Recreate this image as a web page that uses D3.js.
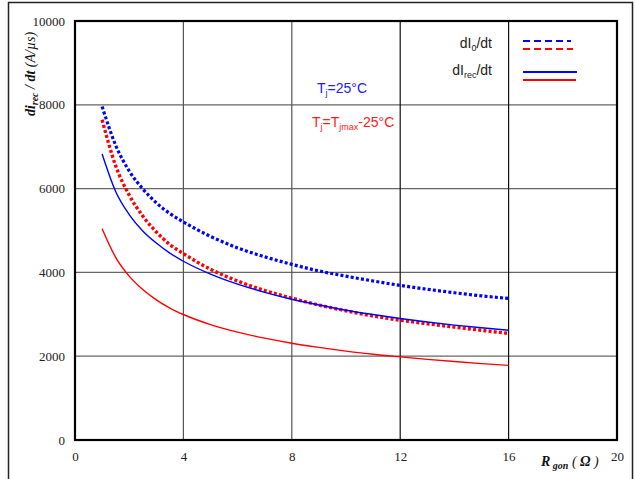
<!DOCTYPE html>
<html>
<head>
<meta charset="utf-8">
<script src="https://cdn.jsdelivr.net/npm/d3@7"></script>
<style>
  body { margin: 0; background: #fff; }
  svg { display: block; }
</style>
</head>
<body>
<div id="chart"></div>
<script>
// R_gon values (Ohm) at which the curves were read
const rgon = [1, 1.5, 2, 2.5, 3, 3.5, 4, 5, 6, 7, 8, 9, 10, 11, 12, 13, 14, 15, 16]

// dI0/dt, Tj = 25°C (blue dashed)
const dI0Cold = [7960, 7035, 6420, 5995, 5660, 5405, 5204, 4860, 4585, 4372, 4192, 4035, 3910, 3795, 3690, 3598, 3515, 3440, 3377]
// dI0/dt, Tj = Tjmax-25°C (red dashed)
const dI0Hot = [7642, 6545, 5845, 5345, 4965, 4665, 4449, 4075, 3795, 3568, 3385, 3220, 3085, 2960, 2860, 2775, 2695, 2618, 2543]
// dIrec/dt, Tj = 25°C (blue solid)
const dIrecCold = [6825, 5930, 5380, 4990, 4700, 4460, 4266, 3960, 3720, 3525, 3360, 3222, 3098, 2995, 2900, 2815, 2742, 2678, 2621]
// dIrec/dt, Tj = Tjmax-25°C (red solid)
const dIrecHot = [5045, 4360, 3910, 3590, 3345, 3150, 2995, 2755, 2575, 2430, 2310, 2210, 2122, 2045, 1983, 1925, 1872, 1824, 1780]

const xTicks = [0, 4, 8, 12, 16, 20]
const yTicks = [0, 2000, 4000, 6000, 8000, 10000]

const series = [
    { values: dI0Cold, color: "#0000ff", dash: "3,2.2", width: 3.2 },
    { values: dI0Hot, color: "#ff0000", dash: "3,2.2", width: 3.4 },
    { values: dIrecCold, color: "#0000ff", dash: null, width: 1.4 },
    { values: dIrecHot, color: "#ff0000", dash: null, width: 1.4 }
]

const width = 635, height = 479
const margin = { top: 21, right: 18, bottom: 39, left: 75 }

const svg = d3.select("#chart")
    .append("svg")
    .attr("width", width)
    .attr("height", height)

// outer frame
svg.append("rect")
    .attr("x", 8.5).attr("y", 2.5)
    .attr("width", 624).attr("height", 500)
    .attr("fill", "none")
    .attr("stroke", "#222")
    .attr("stroke-width", 1.5)

const x = d3.scaleLinear().domain([0, 20]).range([margin.left, width - margin.right])
const y = d3.scaleLinear().domain([0, 10000]).range([height - margin.bottom, margin.top])

const grid = svg.append("g")

grid.selectAll(".hgrid")
    .data(yTicks.filter(d => d > 0 && d < 10000))
    .enter()
    .append("line")
    .attr("x1", x(0)).attr("x2", x(20))
    .attr("y1", d => y(d)).attr("y2", d => y(d))
    .attr("stroke", "#666")
    .attr("stroke-width", 1.2)

grid.selectAll(".vgrid")
    .data(xTicks.filter(d => d > 0 && d < 20))
    .enter()
    .append("line")
    .attr("x1", d => x(d)).attr("x2", d => x(d))
    .attr("y1", y(0)).attr("y2", y(10000))
    .attr("stroke", d => d >= 12 ? "#111" : "#555")
    .attr("stroke-width", 1.2)

// plot frame
svg.append("rect")
    .attr("x", x(0)).attr("y", y(10000))
    .attr("width", x(20) - x(0)).attr("height", y(0) - y(10000))
    .attr("fill", "none")
    .attr("stroke", "#000")
    .attr("stroke-width", 2.2)

// axes (tick labels only)
const xAxis = svg.append("g")
    .attr("transform", "translate(0," + (y(0) + 8) + ")")
    .call(d3.axisBottom(x).tickValues(xTicks).tickSize(0).tickPadding(4))
xAxis.select(".domain").remove()
xAxis.selectAll("text")
    .attr("font-family", "'Liberation Serif', serif")
    .attr("font-size", 13)
    .attr("fill", "#222")

const yAxis = svg.append("g")
    .attr("transform", "translate(" + (x(0) - 10) + ",0)")
    .call(d3.axisLeft(y).tickValues(yTicks).tickFormat(d3.format("d")).tickSize(0).tickPadding(0))
yAxis.select(".domain").remove()
yAxis.selectAll("text")
    .attr("font-family", "'Liberation Serif', serif")
    .attr("font-size", 13)
    .attr("fill", "#222")

// curves
const line = d3.line()
    .x((d, i) => x(rgon[i]))
    .y(d => y(d))
    .curve(d3.curveMonotoneX)

svg.append("g")
    .selectAll("path")
    .data(series)
    .enter()
    .append("path")
    .attr("d", d => line(d.values))
    .attr("fill", "none")
    .attr("stroke", d => d.color)
    .attr("stroke-width", d => d.width)
    .attr("stroke-dasharray", d => d.dash)

// y axis title
const yTitle = svg.append("text")
    .attr("transform", "translate(35,74) rotate(-90)")
    .attr("text-anchor", "middle")
    .attr("font-family", "'Liberation Serif', serif")
    .attr("font-size", 14)
    .attr("fill", "#111")
yTitle.append("tspan").attr("font-weight", "bold").attr("font-style", "italic").text("di")
yTitle.append("tspan").attr("font-weight", "bold").attr("font-style", "italic")
    .attr("font-size", 10).attr("dy", 3).text("rec")
yTitle.append("tspan").attr("font-weight", "bold").attr("font-style", "italic")
    .attr("dy", -3).text(" / dt ")
yTitle.append("tspan").attr("font-style", "italic").text("(A/µs)")

// x axis title
const xTitle = svg.append("text")
    .attr("x", 541).attr("y", 466)
    .attr("font-family", "'Liberation Serif', serif")
    .attr("font-size", 14)
    .attr("fill", "#111")
xTitle.append("tspan").attr("font-weight", "bold").attr("font-style", "italic").text("R")
xTitle.append("tspan").attr("font-weight", "bold").attr("font-style", "italic")
    .attr("font-size", 10).attr("dy", 3).text(" gon")
xTitle.append("tspan").attr("dy", -3).attr("font-style", "italic").text(" ( ")
xTitle.append("tspan").attr("font-weight", "bold").attr("font-style", "italic").text("Ω")
xTitle.append("tspan").attr("font-style", "italic").text(" )")

// temperature annotations
const sans = "'Liberation Sans', Arial, sans-serif"
const t1 = svg.append("text")
    .attr("x", 317).attr("y", 93)
    .attr("font-family", sans).attr("font-size", 14).attr("fill", "#2020ff")
t1.append("tspan").text("T")
t1.append("tspan").attr("font-size", 9).attr("dy", 3).text("j")
t1.append("tspan").attr("dy", -3).text("=25°C")

const t2 = svg.append("text")
    .attr("x", 312).attr("y", 127)
    .attr("font-family", sans).attr("font-size", 14).attr("fill", "#ff2020")
t2.append("tspan").text("T")
t2.append("tspan").attr("font-size", 9).attr("dy", 3).text("j")
t2.append("tspan").attr("dy", -3).text("=T")
t2.append("tspan").attr("font-size", 9).attr("dy", 3).text("jmax")
t2.append("tspan").attr("dy", -3).text("-25°C")

// legend
const l1 = svg.append("text")
    .attr("x", 492).attr("y", 48)
    .attr("text-anchor", "end")
    .attr("font-family", sans).attr("font-size", 14).attr("fill", "#222")
l1.append("tspan").text("dI")
l1.append("tspan").attr("font-size", 9).attr("dy", 3).text("0")
l1.append("tspan").attr("dy", -3).text("/dt")

const l2 = svg.append("text")
    .attr("x", 492).attr("y", 75)
    .attr("text-anchor", "end")
    .attr("font-family", sans).attr("font-size", 14).attr("fill", "#222")
l2.append("tspan").text("dI")
l2.append("tspan").attr("font-size", 9).attr("dy", 3).text("rec")
l2.append("tspan").attr("dy", -3).text("/dt")

const legendItems = [
    { y: 41, color: "#0000ff", dash: "7,4", x2: 571 },
    { y: 49, color: "#ff0000", dash: "7,4", x2: 573 },
    { y: 72, color: "#0000ff", dash: null, x2: 577 },
    { y: 80, color: "#ff0000", dash: null, x2: 576 }
]
svg.append("g")
    .selectAll("line")
    .data(legendItems)
    .enter()
    .append("line")
    .attr("x1", 523).attr("x2", d => d.x2)
    .attr("y1", d => d.y).attr("y2", d => d.y)
    .attr("stroke", d => d.color)
    .attr("stroke-width", 2.2)
    .attr("stroke-dasharray", d => d.dash)
</script>
</body>
</html>
